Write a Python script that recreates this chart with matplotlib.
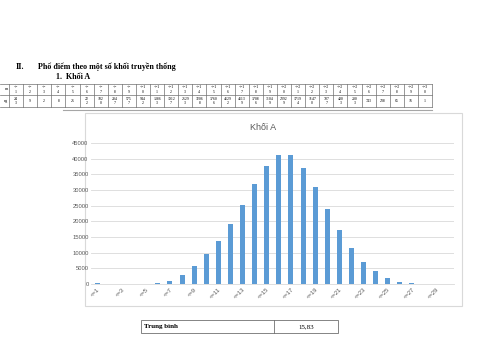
import matplotlib
matplotlib.use("Agg")
import matplotlib.pyplot as plt
from matplotlib.patches import Rectangle

# data: number of candidates per score band, Khoi A
categories = ["<=%d" % i for i in range(1, 31)]
counts = [243, 9, 2, 8, 25, 222, 1020, 2847, 5757, 9442,
          13863, 19127, 25293, 32068, 37606, 41292, 41139, 37086, 31049, 23929,
          17194, 11470, 7077, 4003, 2003, 743, 238, 65, 16, 1]
mean_label = "Trung bình"
mean_value = "15,83"
heading = "Phổ điểm theo một số khối truyền thống"
subheading = "1.  Khối A"
chart_title = "Khối A"

BAR = "#5B9BD5"
GRID = "#D9D9D9"
TXT = "#595959"

fig = plt.figure(figsize=(4.8, 3.6), dpi=100)
fig.patch.set_facecolor("white")

# page layer in pixel coords
page = fig.add_axes([0, 0, 1, 1])
page.set_xlim(0, 480)
page.set_ylim(360, 0)
page.axis("off")

serif = "Liberation Serif"
page.text(16, 67, "II.", fontsize=5.8, fontweight="bold", family=serif, va="center")
page.text(38, 67, heading, fontsize=5.8, fontweight="bold", family=serif, va="center")
page.text(56, 77, subheading, fontsize=5.8, fontweight="bold", family=serif, va="center")

# score table
top, mid, bot = 84, 95, 107
x0, cw = 9, 14.1
xr = x0 + cw * len(categories)
lc = "#707070"
for y in (top, mid, bot):
    page.plot([0, xr], [y, y], color=lc, lw=0.5)
for i in range(len(categories) + 1):
    page.plot([x0 + cw * i] * 2, [top, bot], color=lc, lw=0.5)
page.text(8, (top + mid) / 2, "m", fontsize=3, family=serif, ha="right", va="center")
page.text(8, (mid + bot) / 2, "ng", fontsize=3, family=serif, ha="right", va="center")
for i, (c, v) in enumerate(zip(categories, counts)):
    cx = x0 + cw * (i + 0.5)
    num = c[2:]
    hdr = "<=\n" + num if len(num) == 1 else "<=" + num[0] + "\n" + num[1]
    page.text(cx, (top + mid) / 2, hdr, fontsize=2.8, family=serif,
              ha="center", va="center", linespacing=1.1)
    s = str(v)
    if len(s) >= 3 and i < 25:
        s = s[:-1] + "\n" + s[-1]
    page.text(cx, (mid + bot) / 2, s, fontsize=2.8, family=serif,
              ha="center", va="center", linespacing=1.1)

page.plot([63, 432], [110, 110], color="#A6A6A6", lw=0.8)

# chart frame
page.add_patch(Rectangle((85, 113), 377, 193, fill=False, ec=GRID, lw=0.8))
page.text(263, 128, chart_title, fontsize=6.5, color=TXT, ha="center", va="center",
          family="Liberation Sans")

# bottom table
page.add_patch(Rectangle((141, 320), 197, 12.5, fill=False, ec=lc, lw=0.6))
page.plot([274, 274], [320, 332.5], color=lc, lw=0.6)
page.text(144, 326.5, mean_label, fontsize=5, fontweight="bold", family=serif, va="center")
page.text(306, 326.5, mean_value, fontsize=5, family=serif, ha="center", va="center")

# bar chart
ax = fig.add_axes([91.3 / 480, 1 - 284 / 360, 363 / 480, 141 / 360])
ax.patch.set_alpha(0)
x = range(len(categories))
ax.bar(x, counts, width=0.42, color=BAR, zorder=3)
ax.set_xlim(-0.5, len(categories) - 0.5)
ax.set_ylim(0, 45000)
ax.set_yticks(range(0, 45001, 5000))
ax.grid(axis="y", color=GRID, lw=0.6, zorder=0)
for s in ("top", "right", "left"):
    ax.spines[s].set_visible(False)
ax.spines["bottom"].set_color(GRID)
ax.spines["bottom"].set_linewidth(0.6)
ax.tick_params(length=0, labelsize=4.2, labelcolor=TXT, pad=2)
ax.set_xticks(list(x)[::2])
ax.set_xticklabels(categories[::2], rotation=45, ha="right", rotation_mode="anchor")
for lab in ax.get_xticklabels() + ax.get_yticklabels():
    lab.set_family("Liberation Sans")

fig.savefig("out.png", dpi=100)
